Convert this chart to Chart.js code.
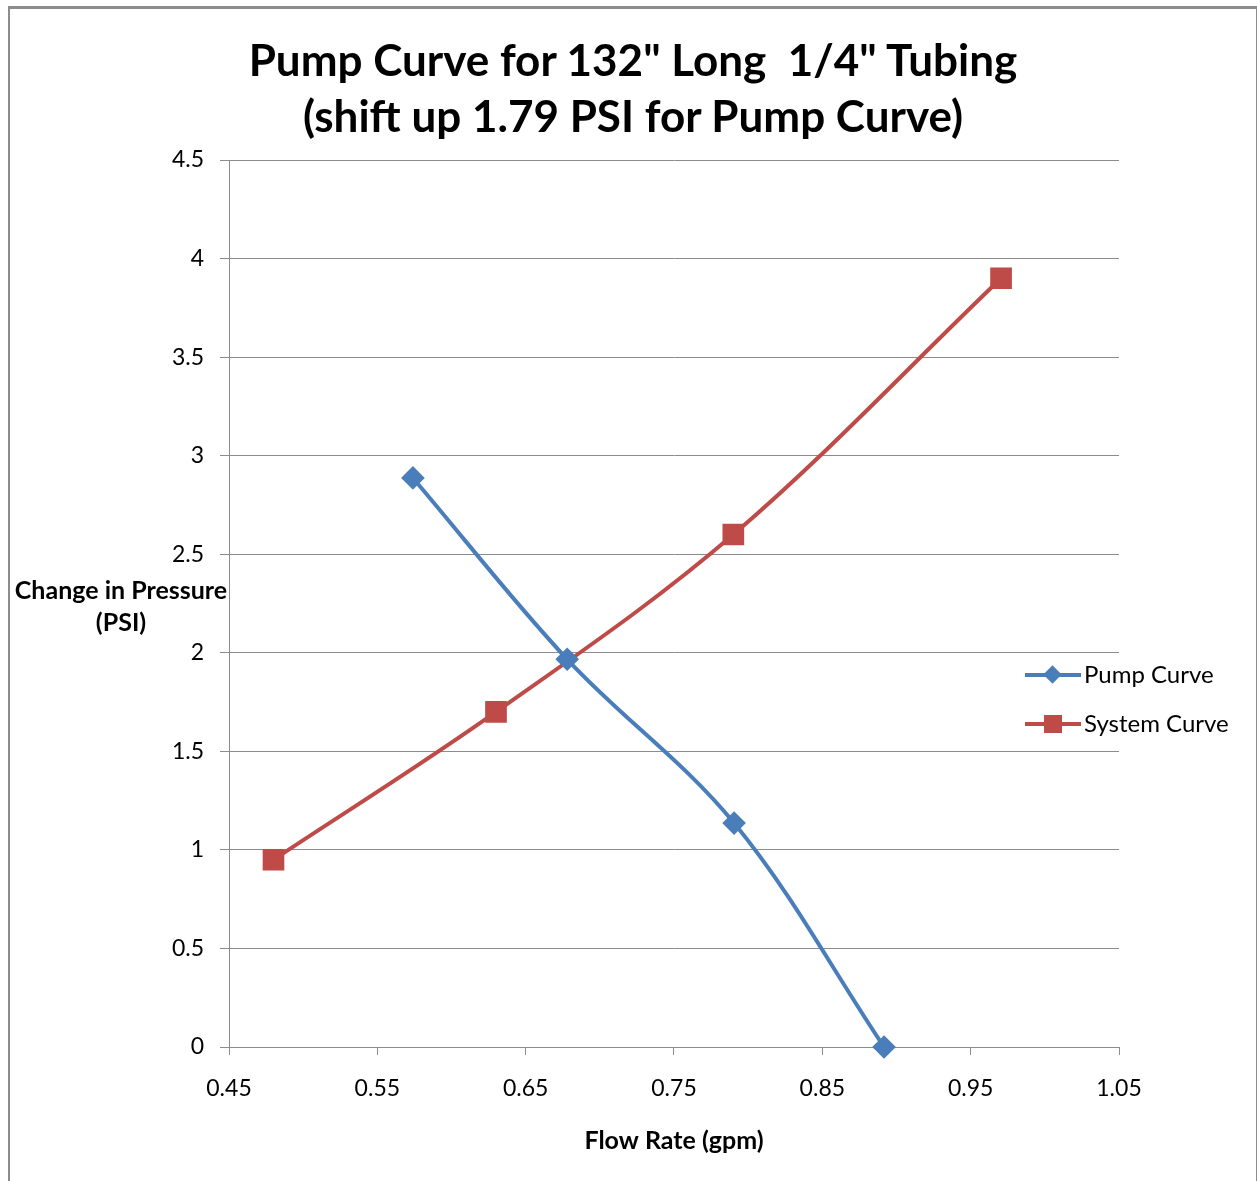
<!DOCTYPE html>
<html>
<head>
<meta charset="utf-8">
<script src="https://cdn.jsdelivr.net/npm/chart.js@4.4.1/dist/chart.umd.min.js"></script>
<style>
    body { margin: 0; background: #fff; }
    #wrap { position: relative; width: 1257px; height: 1181px; overflow: hidden; }
    #frame { position: absolute; left: 8px; top: 6px; width: 1246px; height: 1200px; border: 2px solid #8c8c8c; border-top-width: 3px; }
    #growth { position: absolute; left: 0; top: 0; }
    .title { position: absolute; left: 0; top: 31px; width: 1266px; text-align: center; font: bold 44px Lato, sans-serif; line-height: 56px; color: #000; white-space: pre; }
    .ytitle { position: absolute; left: 0; width: 242px; text-align: center; font: bold 25px Lato, sans-serif; color: #000; line-height: 32px; top: 573px; white-space: nowrap; }
    .legend { position: absolute; left: 1025px; font: 24px Lato, sans-serif; color: #000; white-space: nowrap; }
    .legend div { position: relative; height: 49px; }
    .legend .ln { position: absolute; left: 0; top: 22px; width: 56px; height: 4px; }
    .legend .mk { position: absolute; }
    .legend span { position: absolute; left: 59px; top: 8px; }
</style>
</head>
<body>
<div id="wrap">
    <div id="frame"></div>
    <canvas id="growth" width="1257" height="1181"></canvas>
    <div class="title">Pump Curve for 132" Long  1/4" Tubing
(shift up 1.79 PSI for Pump Curve)</div>
    <div class="ytitle">Change in Pressure<br>(PSI)</div>
    <div class="legend" style="top: 651px;">
        <div>
            <i class="ln" style="background:#4a7ebb"></i>
            <i class="mk" style="left:21px; top:17px; width:13px; height:13px; background:#4a7ebb; transform:rotate(45deg)"></i>
            <span>Pump Curve</span>
        </div>
        <div>
            <i class="ln" style="background:#be4b48"></i>
            <i class="mk" style="left:19px; top:15px; width:18px; height:18px; background:#be4b48"></i>
            <span>System Curve</span>
        </div>
    </div>
</div>
<script>
// values
const pumpFlow = [0.574, 0.678, 0.7905, 0.8916];
const pumpPressure = [2.887, 1.967, 1.136, 0];
const systemFlow = [0.48, 0.63, 0.79, 0.9705];
const systemPressure = [0.95, 1.70, 2.60, 3.90];
const xTicks = [0.45, 0.55, 0.65, 0.75, 0.85, 0.95, 1.05];
const yTicks = [0, 0.5, 1, 1.5, 2, 2.5, 3, 3.5, 4, 4.5];

const blue = 'rgb(74, 126, 187)';
const red = 'rgb(190, 75, 72)';
const gridColor = '#8c8c8c';

function toPoints(xs, ys) {
    return xs.map((x, i) => ({ x: x, y: ys[i] }));
}

const ctx = document.getElementById('growth').getContext('2d');
const chart = new Chart(ctx, {
    type: 'line',
    data: {
        datasets: [
            {
                label: 'Pump Curve',
                data: toPoints(pumpFlow, pumpPressure),
                borderColor: blue,
                backgroundColor: blue,
                borderWidth: 4,
                pointStyle: 'rectRot',
                pointRadius: 9,
                pointHoverRadius: 9,
                tension: 0.35,
                clip: false,
                fill: false
            },
            {
                label: 'System Curve',
                data: toPoints(systemFlow, systemPressure),
                borderColor: red,
                backgroundColor: red,
                borderWidth: 4,
                pointStyle: 'rect',
                pointRadius: 12.5,
                pointHoverRadius: 12.5,
                tension: 0.35,
                clip: false,
                fill: false
            }
        ]
    },
    options: {
        responsive: false,
        animation: false,
        events: [],
        layout: { padding: { left: 0, right: 138, top: 160, bottom: 0 } },
        plugins: {
            legend: { display: false },
            tooltip: { enabled: false },
            title: { display: false }
        },
        scales: {
            x: {
                type: 'linear',
                min: 0.45,
                max: 1.05,
                afterBuildTicks: scale => { scale.ticks = xTicks.map(v => ({ value: v })); },
                afterFit: scale => { scale.height = 134; },
                ticks: {
                    color: '#000',
                    font: { family: 'Lato', size: 23 },
                    padding: 20,
                    callback: v => String(v)
                },
                grid: { drawOnChartArea: false, drawTicks: true, tickLength: 8, color: gridColor },
                border: { color: gridColor },
                title: {
                    display: true,
                    text: 'Flow Rate (gpm)',
                    color: '#000',
                    font: { family: 'Lato', size: 25, weight: 'bold' },
                    padding: { top: 0, bottom: 25 }
                }
            },
            y: {
                type: 'linear',
                min: 0,
                max: 4.5,
                afterBuildTicks: scale => { scale.ticks = yTicks.map(v => ({ value: v })); },
                afterFit: scale => { scale.width = 229; },
                ticks: {
                    color: '#000',
                    font: { family: 'Lato', size: 23 },
                    padding: 16,
                    callback: v => String(v)
                },
                grid: { color: gridColor, tickLength: 9 },
                border: { color: gridColor }
            }
        }
    }
});
</script>
</body>
</html>
